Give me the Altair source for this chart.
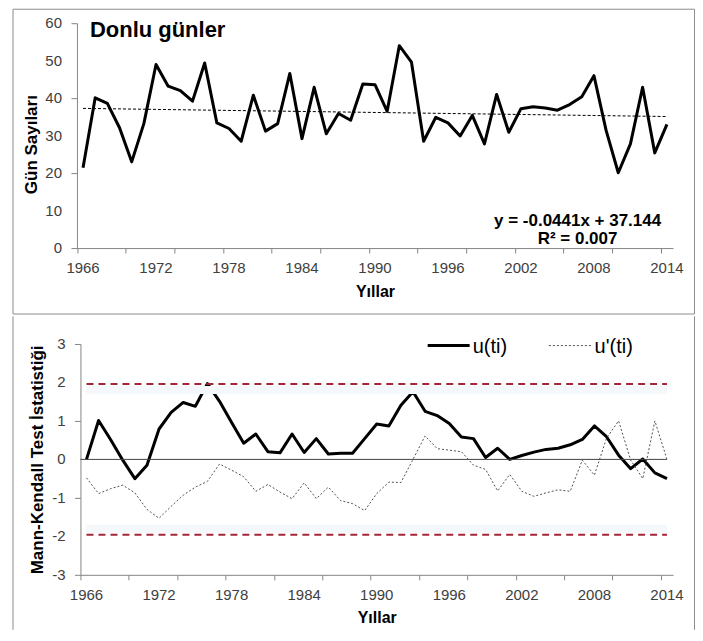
import altair as alt
import pandas as pd

# ---------------- data ----------------
years = list(range(1966, 2015))
frost_days = [21.4, 40.1, 38.6, 32.1, 23.0, 33.2, 49.0, 43.2, 42.0, 39.2,
              49.4, 33.4, 31.9, 28.5, 40.8, 31.2, 33.2, 46.6, 29.2, 42.9,
              30.5, 35.9, 34.1, 43.8, 43.6, 36.5, 54.0, 49.6, 28.5, 34.9,
              33.4, 29.9, 35.4, 27.8, 41.0, 30.9, 37.2, 37.7, 37.4, 36.8,
              38.3, 40.4, 46.0, 31.4, 20.1, 27.8, 42.9, 25.4, 33.0]
u_ti = [0.0, 1.01, 0.51, -0.02, -0.5, -0.15, 0.79, 1.22, 1.48, 1.38,
        1.97, 1.51, 0.96, 0.42, 0.66, 0.2, 0.17, 0.66, 0.18, 0.54,
        0.14, 0.16, 0.16, 0.54, 0.92, 0.87, 1.41, 1.76, 1.25, 1.14,
        0.93, 0.58, 0.54, 0.05, 0.29, 0.0, 0.1, 0.19, 0.26, 0.29,
        0.38, 0.52, 0.87, 0.59, 0.11, -0.24, 0.01, -0.35, -0.5]
u_prime_ti = [-0.48, -0.89, -0.76, -0.67, -0.87, -1.3, -1.53, -1.22, -0.93, -0.72,
              -0.57, -0.12, -0.28, -0.45, -0.83, -0.65, -0.85, -1.02, -0.61, -1.02,
              -0.72, -1.07, -1.15, -1.33, -0.89, -0.59, -0.6, 0.0, 0.61, 0.28,
              0.24, 0.2, -0.15, -0.26, -0.82, -0.39, -0.83, -0.96, -0.87, -0.79,
              -0.83, -0.02, -0.41, 0.55, 1.0, -0.02, -0.5, 1.0, 0.0]
critical_values = [1.96, -1.96]
y_ticks_top = [0, 10, 20, 30, 40, 50, 60]
y_ticks_bottom = [-3, -2, -1, 0, 1, 2, 3]
label_years = [1966, 1972, 1978, 1984, 1990, 1996, 2002, 2008, 2014]
equation_text = "y = -0.0441x + 37.144"
r2_text = "R² = 0.007"
panel_title = "Donlu günler"
legend_labels = ["u(ti)", "u'(ti)"]

top_df = pd.DataFrame({"year": years, "days": frost_days})
mk_df = pd.DataFrame({"year": years, "u": u_ti, "u2": u_prime_ti})
crit_df = pd.DataFrame({"value": critical_values,
                        "start": [years[0]] * 2, "end": [years[-1]] * 2})
xlab_df = pd.DataFrame({"year": label_years, "label": [str(v) for v in label_years]})
ylab_top_df = pd.DataFrame({"days": y_ticks_top, "label": [str(v) for v in y_ticks_top]})
ylab_bot_df = pd.DataFrame({"u": y_ticks_bottom, "label": [str(v) for v in y_ticks_bottom]})
one = pd.DataFrame({"k": [0]})

# ---------------- style ----------------
FONT = "Liberation Sans"
AX = "#868686"
BORDER = "#8c8c8c"
LBL = "#404040"
W, H1, H2 = 593, 225, 231
SHIFT = 3.5          # top plot area starts a little further left than the bottom one

boundaries = [y - 0.5 for y in years] + [years[-1] + 0.5]
x_dom = [years[0] - 0.5, years[-1] + 0.5]
x_scale_top = alt.Scale(domain=x_dom, nice=False, zero=False, range=[-SHIFT, W])
x_scale_bot = alt.Scale(domain=x_dom, nice=False, zero=False)
y_scale_top = alt.Scale(domain=[0, 60], nice=False)
y_scale_bot = alt.Scale(domain=[-3, 3], nice=False)

x_axis = alt.Axis(values=boundaries, labels=False, tickSize=5, domainColor=AX,
                  tickColor=AX, grid=False, title="Yıllar", titleFontSize=16,
                  titleFontWeight="bold", titleColor="black", titleY=43,
                  titleBaseline="middle")


def y_axis(vals, title, tx, ty, off):
    return alt.Axis(values=vals, labels=False, tickSize=6, domainColor=AX, offset=off,
                    tickColor=AX, grid=False, title=title, titleFontSize=17,
                    titleFontWeight="bold", titleColor="black", titleX=tx, titleY=ty,
                    titleAlign="center", titleBaseline="middle", titleAngle=270)


def x_labels(h, sc):
    return alt.Chart(xlab_df).mark_text(baseline="middle", align="center", fontSize=15,
                                        color=LBL).encode(
        x=alt.X("year:Q", scale=sc), y=alt.value(h + 20), text="label:N")


# ---------------- top panel ----------------
x1 = alt.X("year:Q", scale=x_scale_top, axis=x_axis)
y1 = alt.Y("days:Q", scale=y_scale_top,
           axis=y_axis(y_ticks_top, "Gün Sayıları", -45, 121, SHIFT))

top_border = alt.Chart(one).mark_rect(fill="white", fillOpacity=0, stroke=BORDER,
                                      strokeWidth=1).encode(
    x=alt.value(-67.5), x2=alt.value(W + 21.5), y=alt.value(-14), y2=alt.value(H1 + 66))

top_line = alt.Chart(top_df).mark_line(color="black", strokeWidth=3,
                                       strokeJoin="round").encode(x=x1, y=y1)
trend = alt.Chart(top_df).transform_regression(
    "year", "days", extent=[years[0], years[-1]]).mark_line(
    color="black", strokeWidth=1, strokeDash=[3, 2]).encode(x="year:Q", y="days:Q")
ylab_top = alt.Chart(ylab_top_df).mark_text(align="right", baseline="middle",
                                            fontSize=15, color=LBL).encode(
    x=alt.value(-15 - SHIFT), y=alt.Y("days:Q", scale=y_scale_top), text="label:N")

title_txt = alt.Chart(one).mark_text(align="left", baseline="alphabetic", fontSize=22,
                                     fontWeight="bold", color="black").encode(
    x=alt.value(9.5), y=alt.value(14), text=alt.value(panel_title))
eq_txt = alt.Chart(one).mark_text(align="center", baseline="alphabetic", fontSize=17,
                                  fontWeight="bold", color="black").encode(
    x=alt.value(497.5), y=alt.value(203), text=alt.value(equation_text))
r2_txt = alt.Chart(one).mark_text(align="center", baseline="alphabetic", fontSize=17,
                                  fontWeight="bold", color="black").encode(
    x=alt.value(497.5), y=alt.value(221), text=alt.value(r2_text))

top = alt.layer(top_line, trend, x_labels(H1, x_scale_top), ylab_top, title_txt,
                eq_txt, r2_txt, top_border).properties(width=W, height=H1)

# ---------------- bottom panel ----------------
x2 = alt.X("year:Q", scale=x_scale_bot, axis=x_axis)
y2 = alt.Y("u:Q", scale=y_scale_bot,
           axis=y_axis(y_ticks_bottom, "Mann-Kendall Test İstatistiği", -42.5, H2 / 2, 0))

shadow_hi = alt.Chart(crit_df).transform_filter("datum.value > 0").mark_rule(
    color="#F5F8FA", strokeWidth=8, yOffset=6).encode(
    x="start:Q", x2="end:Q", y="value:Q")
shadow_lo = alt.Chart(crit_df).transform_filter("datum.value < 0").mark_rule(
    color="#F5F8FA", strokeWidth=8, yOffset=-6).encode(
    x="start:Q", x2="end:Q", y="value:Q")
crit = alt.Chart(crit_df).mark_rule(color="#A32638", strokeWidth=2,
                                    strokeDash=[7, 5]).encode(
    x="start:Q", x2="end:Q", y="value:Q")
zero = alt.Chart(one).mark_rule(color="#404040", strokeWidth=1).encode(
    x=alt.datum(years[0] - 0.5), x2=alt.datum(years[-1]), y=alt.datum(0))
u2_line = alt.Chart(mk_df).mark_line(color="#505050", strokeWidth=1,
                                     strokeDash=[2, 2]).encode(x="year:Q", y="u2:Q")
u_line = alt.Chart(mk_df).mark_line(color="black", strokeWidth=3,
                                    strokeJoin="round").encode(x=x2, y=y2)
ylab_bot = alt.Chart(ylab_bot_df).mark_text(align="right", baseline="middle",
                                            fontSize=15, color=LBL).encode(
    x=alt.value(-15), y=alt.Y("u:Q", scale=y_scale_bot), text="label:N")

leg1 = alt.Chart(one).mark_rule(color="black", strokeWidth=3).encode(
    x=alt.value(347.5), x2=alt.value(389.5), y=alt.value(1.6))
leg1_t = alt.Chart(one).mark_text(align="left", baseline="middle", fontSize=20,
                                  color="black").encode(
    x=alt.value(392.5), y=alt.value(3), text=alt.value(legend_labels[0]))
leg2 = alt.Chart(one).mark_rule(color="#505050", strokeWidth=1,
                                strokeDash=[2, 2]).encode(
    x=alt.value(468.8), x2=alt.value(512.8), y=alt.value(1.6))
leg2_t = alt.Chart(one).mark_text(align="left", baseline="middle", fontSize=20,
                                  color="black").encode(
    x=alt.value(514.5), y=alt.value(3), text=alt.value(legend_labels[1]))

left_edge = alt.Chart(one).mark_rule(color=BORDER, strokeWidth=1).encode(
    x=alt.value(-67.5), y=alt.value(-27.7), y2=alt.value(H2 + 55))
right_edge = alt.Chart(one).mark_rule(color=BORDER, strokeWidth=1).encode(
    x=alt.value(W + 21.5), y=alt.value(-27.7), y2=alt.value(H2 + 55))

bottom = alt.layer(u_line, shadow_hi, shadow_lo, crit, zero, u2_line,
                   x_labels(H2, x_scale_bot), ylab_bot,
                   leg1, leg1_t, leg2, leg2_t, left_edge, right_edge).properties(
    width=W, height=H2)

chart = alt.vconcat(top, bottom, spacing=0).properties(
    padding={"left": 4.5, "top": 0, "right": 0, "bottom": 0},
    background="white",
).configure(font=FONT).configure_view(strokeWidth=0)

chart.save("out.html", embed_options={"renderer": "svg", "actions": False})
